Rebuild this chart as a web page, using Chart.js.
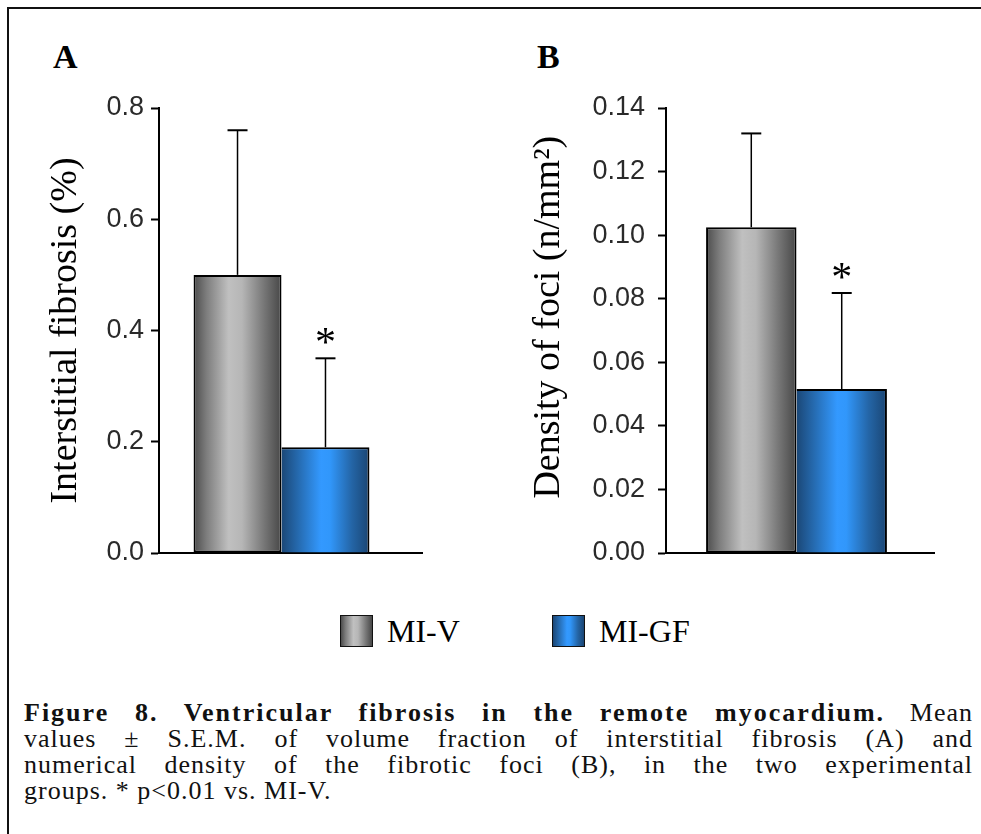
<!DOCTYPE html>
<html lang="en">
<head>
  <meta charset="UTF-8">
  <title>Figure 8. Ventricular fibrosis in the remote myocardium</title>
  <script src="https://cdn.jsdelivr.net/npm/chart.js"></script>
  <style>
    body {
      margin: 0;
      width: 981px;
      height: 834px;
      overflow: hidden;
      position: relative;
      background: #fff;
      font-family: 'Liberation Serif', 'Times New Roman', serif;
      color: #000;
    }
    .frame {
      position: absolute;
      left: 7px;
      top: 7px;
      width: 990px;
      height: 840px;
      border-top: 2px solid #111;
      border-left: 2px solid #111;
    }
    .letter {
      position: absolute;
      top: 40px;
      font-size: 34px;
      line-height: 34px;
      font-weight: bold;
    }
    canvas { position: absolute; top: 80px; }
    #legend {
      position: absolute;
      left: 340px;
      top: 615px;
      display: flex;
    }
    .item { display: flex; align-items: center; width: 212px; }
    .swatch {
      width: 31px;
      height: 30px;
      border: 1px solid #111;
      margin-right: 14px;
    }
    .item span { font-size: 32px; line-height: 32px; }
    #caption {
      position: absolute;
      left: 24px;
      top: 700px;
      width: 949px;
      font-size: 26px;
      line-height: 26px;
      letter-spacing: 1px;
      color: #111;
    }
    #caption b { letter-spacing: 2px; }
    #caption div { text-align: justify; text-align-last: justify; white-space: nowrap; }
    #caption div.last { text-align-last: left; }
  </style>
</head>
<body>
<div class="frame"></div>
<div class="letter" style="left:53px">A</div>
<div class="letter" style="left:537px">B</div>
<canvas id="chartA" width="440" height="483" style="left:0"></canvas>
<canvas id="chartB" width="470" height="483" style="left:500px"></canvas>
<div id="legend"></div>
<div id="caption">
  <div><b>Figure 8. Ventricular fibrosis in the remote myocardium.</b> Mean</div>
  <div>values ± S.E.M. of volume fraction of interstitial fibrosis (A) and</div>
  <div>numerical density of the fibrotic foci (B), in the two experimental</div>
  <div class="last">groups. * p&lt;0.01 vs. MI-V.</div>
</div>
<script>
// groups and values
const groups = ['MI-V', 'MI-GF'];
const significant = [false, true];

const fibrosisMean = [0.50, 0.19];
const fibrosisSem = [0.26, 0.16];
const fibrosisTicks = { min: 0, max: 0.8, step: 0.2, decimals: 1 };

const fociMean = [0.1025, 0.0516];
const fociSem = [0.0295, 0.0302];
const fociTicks = { min: 0, max: 0.14, step: 0.02, decimals: 2 };

const gradientStops = [
  [[0, '#4c4c4c'], [0.15, '#7e7e7e'], [0.4, '#c0c0c0'], [0.55, '#b6b6b6'], [0.8, '#777'], [1, '#474747']],
  [[0, '#1b4776'], [0.2, '#266cb2'], [0.45, '#3399ff'], [0.55, '#3197fb'], [0.8, '#2465a6'], [1, '#1a4573']]
];

const serif = "'Liberation Serif', 'Times New Roman', serif";
const sans = "'Liberation Sans', Arial, sans-serif";

// gradient that runs across one bar, placed from the laid out x scale
function barGradient(ctx, i, catPct) {
  const chart = ctx.chart;
  const area = chart.chartArea;
  if (!area) return gradientStops[i][2][1];
  const x = chart.scales.x;
  const center = x.getPixelForValue(0);
  const band = (area.right - area.left) * catPct;
  const w = band / groups.length;
  const left = center - band / 2 + i * w;
  const g = chart.ctx.createLinearGradient(left, 0, left + w, 0);
  gradientStops[i].forEach(s => g.addColorStop(s[0], s[1]));
  return g;
}

const errorBars = {
  id: 'errorBars',
  afterDatasetsDraw(chart, args, opts) {
    const ctx = chart.ctx;
    const y = chart.scales.y;
    ctx.save();
    ctx.strokeStyle = '#000';
    ctx.fillStyle = '#000';
    chart.data.datasets.forEach((ds, i) => {
      const bar = chart.getDatasetMeta(i).data[0];
      const top = y.getPixelForValue(ds.data[0] + opts.sem[i]);
      ctx.lineWidth = 1.5;
      ctx.beginPath();
      ctx.moveTo(bar.x, bar.y);
      ctx.lineTo(bar.x, top);
      ctx.stroke();
      ctx.lineWidth = 2;
      ctx.beginPath();
      ctx.moveTo(bar.x - 10, top);
      ctx.lineTo(bar.x + 10, top);
      ctx.stroke();
      if (significant[i]) {
        ctx.font = '42px ' + serif;
        ctx.textAlign = 'center';
        ctx.textBaseline = 'alphabetic';
        ctx.fillText('*', bar.x, top - 2);
      }
    });
    ctx.restore();
  }
};

// x axis line runs a little past the plot, as in the figure
const baseExtend = {
  id: 'baseExtend',
  afterDraw(chart, args, opts) {
    const ctx = chart.ctx;
    const yb = chart.scales.y.getPixelForValue(0);
    ctx.save();
    ctx.strokeStyle = '#000';
    ctx.lineWidth = 2;
    ctx.beginPath();
    ctx.moveTo(chart.chartArea.right - 1, yb);
    ctx.lineTo(chart.chartArea.right + opts.length, yb);
    ctx.stroke();
    ctx.restore();
  }
};

function makeChart(id, means, sems, ticks, title, axisWidth, titlePad, catPct, padRight, extend, tickPad) {
  return new Chart(document.getElementById(id), {
    type: 'bar',
    data: {
      labels: [''],
      datasets: groups.map((g, i) => ({
        label: g,
        data: [means[i]],
        backgroundColor: ctx => barGradient(ctx, i, catPct),
        borderColor: '#000',
        borderWidth: i === 0 ? 2 : { top: 2, right: 2, bottom: 0, left: 0 },
        borderSkipped: false,
        barPercentage: 1.0,
        categoryPercentage: catPct
      }))
    },
    options: {
      responsive: false,
      animation: false,
      layout: { padding: { top: 28, bottom: 10, left: 0, right: padRight } },
      plugins: {
        legend: { display: false },
        tooltip: { enabled: false },
        errorBars: { sem: sems },
        baseExtend: { length: extend }
      },
      scales: {
        x: {
          ticks: { display: false },
          grid: { display: false },
          border: { color: '#000', width: 2 },
          afterFit: s => { s.height = 0; s.paddingLeft = 0; s.paddingRight = 0; }
        },
        y: {
          min: ticks.min,
          max: ticks.max,
          afterFit: s => { s.width = axisWidth; s.paddingTop = 0; s.paddingBottom = 0; },
          ticks: {
            stepSize: ticks.step,
            padding: tickPad,
            color: '#2a2a2a',
            font: { family: sans, size: 27 },
            callback: v => Number(v).toFixed(ticks.decimals)
          },
          grid: {
            drawOnChartArea: false,
            drawTicks: true,
            tickLength: 8,
            tickColor: '#000',
            tickWidth: 2
          },
          border: { color: '#000', width: 2 },
          title: {
            display: true,
            text: title,
            color: '#000',
            font: { family: serif, size: 38 },
            padding: { top: titlePad, bottom: 0 }
          }
        }
      }
    },
    plugins: [errorBars, baseExtend]
  });
}

makeChart('chartA', fibrosisMean, fibrosisSem, fibrosisTicks, 'Interstitial fibrosis (%)', 159, 43, 0.718, 36, 19, 7);
// leading space lifts the title slightly, as in the figure
makeChart('chartB', fociMean, fociSem, fociTicks, '\u2002\u2009Density of foci (n/mm²)', 166, 26, 0.693, 43, 8, 13);

// legend built from the group names
const legend = document.getElementById('legend');
groups.forEach((g, i) => {
  const stops = gradientStops[i].map(s => s[1] + ' ' + (s[0] * 100) + '%').join(', ');
  const item = document.createElement('div');
  item.className = 'item';
  item.innerHTML = `<div class="swatch" style="background:linear-gradient(to right, ${stops})"></div><span>${g}</span>`;
  legend.appendChild(item);
});
</script>
</body>
</html>
